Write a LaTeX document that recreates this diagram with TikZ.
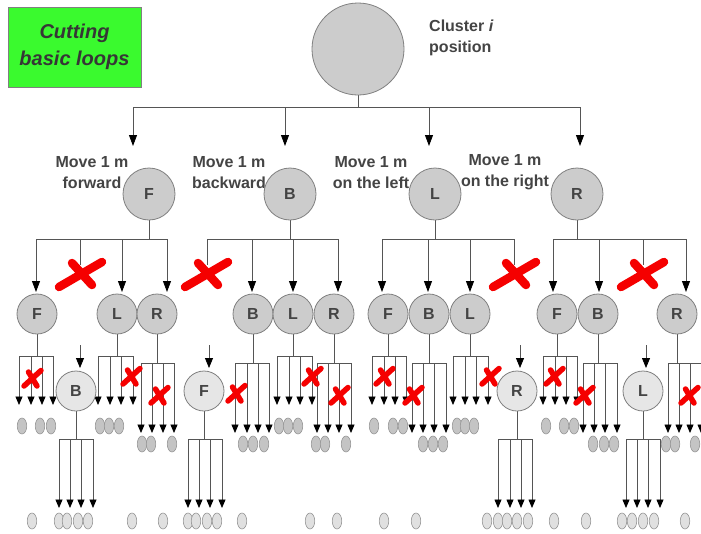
\documentclass[tikz,border=0pt]{standalone}
\usepackage{fontspec}
\setmainfont{Liberation Sans}
\usetikzlibrary{arrows.meta,shapes.geometric}

\definecolor{boxgreen}{RGB}{58,250,46}
\definecolor{linegray}{RGB}{85,85,85}
\definecolor{edgegray}{RGB}{128,128,128}
\definecolor{discgray}{RGB}{204,204,204}
\definecolor{palegray}{RGB}{230,230,230}
\definecolor{leafgray}{RGB}{196,196,196}
\definecolor{leafpale}{RGB}{224,224,224}
\definecolor{leafedge}{RGB}{150,150,150}
\definecolor{inkgray}{RGB}{68,68,68}
\definecolor{cutred}{RGB}{245,0,0}

\pgfdeclarelayer{wires}
\pgfdeclarelayer{marks}
\pgfsetlayers{wires,main,marks}

\tikzset{
  conn/.style={draw=linegray, line width=0.8pt},
  tipbig/.style={-{Triangle[width=8pt,length=11pt,color=black]}},
  tipsmall/.style={-{Triangle[width=7pt,length=8.5pt,color=black]}},
  disc/.style={circle, draw=edgegray, line width=0.8pt, fill=discgray, inner sep=0pt,
    text=inkgray, font=\bfseries\fontsize{16}{16}\selectfont},
  rootdisc/.style={disc, minimum size=92pt},
  movedisc/.style={disc, minimum size=52pt},
  stepdisc/.style={disc, minimum size=40pt},
  backdisc/.style={disc, minimum size=40pt, fill=palegray},
  leaf/.style={ellipse, draw=leafedge, fill=leafgray, line width=0.6pt,
    minimum width=9.5pt, minimum height=16pt, inner sep=0pt},
  paleleaf/.style={leaf, fill=leafpale},
  movelabel/.style={align=center, text=inkgray, inner sep=0pt,
    font=\bfseries\fontsize{16}{21}\selectfont},
  cutstroke/.style={draw=cutred, line cap=round},
  bigcut/.pic={
    \draw[cutstroke,line width=8.5pt] (-22,13) -- (21,-12);
    \draw[cutstroke,line width=8.5pt] (-9,-11) -- (11,11);},
  smallcut/.pic={
    \draw[cutstroke,line width=5.5pt] (-9,8) -- (8,-7.5);
    \draw[cutstroke,line width=5.5pt] (-4.5,-6) -- (4,8);},
}

% #1 parent node, #2 bar level, #3 left end, #4 right end,
% #5 arrowed drops, #6 tip level, #7 tip style
\newcommand\fan[7]{%
  \draw[conn] (#1.south) |- (#3,#2);
  \draw[conn] (#1.south) |- (#4,#2);
  \foreach \dx in {#5} \draw[conn,#7] (\dx,#2) -- (\dx,#6);
}
% a drop that is cut before reaching its target
\newcommand\cutdrop[3]{\draw[conn] (#1,#2) -- (#1,#3);}
% a row of leaf positions: #1 name prefix, #2 level, #3 x list, #4 style
\newcommand\leafrow[4]{%
  \foreach \lx [count=\li] in {#3} \node[#4] (#1-\li) at (\lx,#2) {};}

\begin{document}
\begin{tikzpicture}[x=1pt,y=-1pt]
\useasboundingbox (0,0) rectangle (701,533);

% title box
\node[draw=edgegray, fill=boxgreen, line width=0.6pt, minimum width=133pt,
  minimum height=80pt, inner sep=0pt, align=center, text=inkgray!80!black,
  font=\bfseries\itshape\fontsize{20}{27}\selectfont] (title) at (74.5,47)
  {Cutting\\basic loops};

% root
\node[rootdisc] (root) at (358,49) {};
\node[movelabel, anchor=west, align=left] (rootlabel) at (429,37.5)
  {Cluster \textit{i}\\position};

% first moves: labels first, discs over them
\node[movelabel] (labF) at (92,172.5) {Move 1 m\\forward};
\node[movelabel] (labB) at (229,172.5) {Move 1 m\\backward};
\node[movelabel] (labL) at (371,172.5) {Move 1 m\\on the left};
\node[movelabel] (labR) at (505,172.5) {Move 1 m\\on the right};
\node[movedisc] (mF) at (149,194) {F};
\node[movedisc] (mB) at (290,194) {B};
\node[movedisc] (mL) at (435,194) {L};
\node[movedisc] (mR) at (577,194) {R};

% second moves
\node[stepdisc] (sF1) at (37,314) {F};
\node[stepdisc] (sL1) at (117,314) {L};
\node[stepdisc] (sR1) at (157,314) {R};
\node[stepdisc] (sB2) at (253,314) {B};
\node[stepdisc] (sL2) at (293,314) {L};
\node[stepdisc] (sR2) at (334,314) {R};
\node[stepdisc] (sF3) at (388,314) {F};
\node[stepdisc] (sB3) at (429,314) {B};
\node[stepdisc] (sL3) at (470,314) {L};
\node[stepdisc] (sF4) at (557,314) {F};
\node[stepdisc] (sB4) at (598,314) {B};
\node[stepdisc] (sR4) at (677,314) {R};

% moves that return to the start, shown below the cut
\node[backdisc] (bB) at (76,391) {B};
\node[backdisc] (bF) at (204,391) {F};
\node[backdisc] (bR) at (517,391) {R};
\node[backdisc] (bL) at (643,391) {L};

% third-move leaves
\leafrow{uF1}{426}{22,40,51}{leaf}
\leafrow{uL1}{426}{100,109,119}{leaf}
\leafrow{uL2}{426}{279,288,298}{leaf}
\leafrow{uF3}{426}{374,393,403}{leaf}
\leafrow{uL3}{426}{457,465,474}{leaf}
\leafrow{uF4}{426}{546,564,574}{leaf}
\leafrow{dR1}{444}{142,151,172}{leaf}
\leafrow{dB2}{444}{243,253,264}{leaf}
\leafrow{dR2}{444}{316,325,346}{leaf}
\leafrow{dB3}{444}{423,433,443}{leaf}
\leafrow{dB4}{444}{593,604,614}{leaf}
\leafrow{dR4}{444}{666,675,695}{leaf}

% bottom row leaves
\leafrow{zA}{521}{32}{paleleaf}
\leafrow{zB}{521}{59,67,78,88}{paleleaf}
\leafrow{zC}{521}{132,163}{paleleaf}
\leafrow{zF}{521}{188,196,207,217}{paleleaf}
\leafrow{zD}{521}{242,310,337,384,416}{paleleaf}
\leafrow{zR}{521}{487,498,507,517,528}{paleleaf}
\leafrow{zE}{521}{554,586}{paleleaf}
\leafrow{zL}{521}{622,632,643,654}{paleleaf}
\leafrow{zG}{521}{685}{paleleaf}

\begin{pgfonlayer}{wires}
  \fill[white] (0,0) rectangle (701,533);
  % root to first moves
  \fan{root}{107}{133}{580}{133,285,429,580}{146}{tipbig}
  % first to second moves
  \fan{mF}{239}{36}{167}{36,122,167}{292}{tipbig}
  \cutdrop{80}{239}{265}
  \fan{mB}{239}{207}{338}{252,293,338}{292}{tipbig}
  \cutdrop{207}{239}{265}
  \fan{mL}{239}{382}{514}{382,428,470}{292}{tipbig}
  \cutdrop{514}{239}{265}
  \fan{mR}{239}{553}{686}{553,599,686}{292}{tipbig}
  \cutdrop{643}{239}{265}
  % arrows into the returning moves
  \foreach \ax in {80,209,520,646}
    \draw[conn,-{Triangle[width=8pt,length=10pt,color=black]}] (\ax,345) -- (\ax,368);
  % second to third moves
  \fan{sF1}{356}{19}{53}{19,31,42,53}{405}{tipsmall}
  \fan{sL1}{356}{98}{133}{98,110,121,133}{405}{tipsmall}
  \fan{sR1}{363}{141}{174}{141,152,163,174}{433}{tipsmall}
  \fan{sB2}{363}{235}{269}{235,247,258,269}{433}{tipsmall}
  \fan{sL2}{356}{277}{312}{277,289,300,312}{405}{tipsmall}
  \fan{sR2}{363}{317}{351}{317,328,339,351}{433}{tipsmall}
  \fan{sF3}{356}{372}{406}{372,384,395,406}{405}{tipsmall}
  \fan{sB3}{363}{412}{446}{412,423,434,446}{433}{tipsmall}
  \fan{sL3}{356}{453}{488}{453,465,476,488}{405}{tipsmall}
  \fan{sF4}{356}{543}{577}{543,555,566,577}{405}{tipsmall}
  \fan{sB4}{363}{583}{617}{583,594,605,617}{433}{tipsmall}
  \fan{sR4}{363}{668}{701}{668,679,690,701}{433}{tipsmall}
  % returning moves to their next moves
  \fan{bB}{439}{59}{93}{59,70,81,93}{508}{tipsmall}
  \fan{bF}{439}{188}{222}{188,199,210,222}{508}{tipsmall}
  \fan{bR}{439}{498}{532}{498,510,521,532}{508}{tipsmall}
  \fan{bL}{439}{626}{660}{626,637,648,660}{508}{tipsmall}
\end{pgfonlayer}

\begin{pgfonlayer}{marks}
  \foreach \cx in {81,207,515,643} \pic at (\cx,274) {bigcut};
  \foreach \cx/\cy in {33/378,132/376,160/395,237/393,313/376,340/395,
      385/376,414/395,491/376,555/376,585/395,690/395}
    \pic at (\cx,\cy) {smallcut};
\end{pgfonlayer}
\end{tikzpicture}
\end{document}
